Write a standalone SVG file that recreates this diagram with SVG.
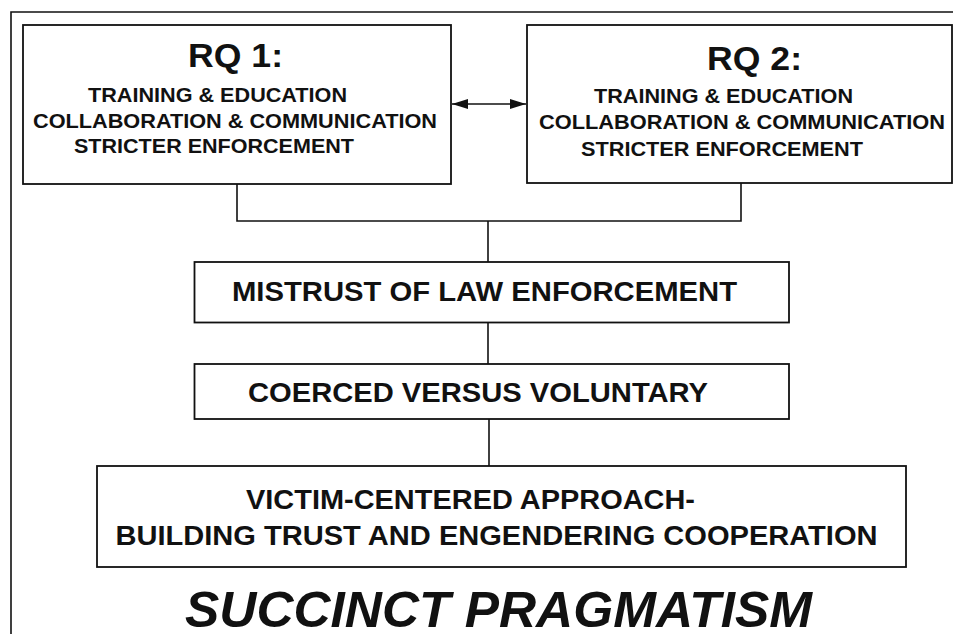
<svg xmlns="http://www.w3.org/2000/svg" width="953" height="634" viewBox="0 0 953 634">
<style>
.box{fill:#fff;stroke:#111;stroke-width:1.8}
.ln{fill:none;stroke:#111;stroke-width:1.6}
text{font-family:"Liberation Sans",Arial,sans-serif;font-weight:bold;fill:#111}
.h{font-size:33px}
.s{font-size:21px}
.m{font-size:28px}
.b{font-size:27px}
.t{font-size:50px;font-style:italic}
</style>
<defs>
<marker id="ah" viewBox="0 0 16 10" refX="16" refY="5" markerWidth="16" markerHeight="10" markerUnits="userSpaceOnUse" orient="auto-start-reverse">
<path d="M0,0 L16,5 L0,10 Z" fill="#111"/>
</marker>
</defs>
<rect width="953" height="634" fill="#fff"/>
<path class="ln" d="M11,634 V12 H953"/>
<g id="connectors">
<path class="ln" d="M237,184 V221 H741 V183"/>
<path class="ln" d="M488,221 V262"/>
<path class="ln" d="M488,322 V364"/>
<path class="ln" d="M489,419 V466"/>
<path class="ln" d="M452,104 H526" marker-start="url(#ah)" marker-end="url(#ah)"/>
</g>
<g id="rq1">
<rect class="box" x="23" y="25" width="428" height="159"/>
<text class="h" x="188" y="67" textLength="95" lengthAdjust="spacingAndGlyphs">RQ 1:</text>
<text class="s" x="88" y="102" textLength="259" lengthAdjust="spacingAndGlyphs">TRAINING &amp; EDUCATION</text>
<text class="s" x="33" y="128" textLength="404" lengthAdjust="spacingAndGlyphs">COLLABORATION &amp; COMMUNICATION</text>
<text class="s" x="74" y="153" textLength="280" lengthAdjust="spacingAndGlyphs">STRICTER ENFORCEMENT</text>
</g>
<g id="rq2">
<rect class="box" x="527" y="25" width="425" height="158"/>
<text class="h" x="707" y="70" textLength="95" lengthAdjust="spacingAndGlyphs">RQ 2:</text>
<text class="s" x="594" y="103" textLength="259" lengthAdjust="spacingAndGlyphs">TRAINING &amp; EDUCATION</text>
<text class="s" x="539" y="129" textLength="406" lengthAdjust="spacingAndGlyphs">COLLABORATION &amp; COMMUNICATION</text>
<text class="s" x="581" y="156" textLength="282" lengthAdjust="spacingAndGlyphs">STRICTER ENFORCEMENT</text>
</g>
<g id="mistrust">
<rect class="box" x="194.5" y="262" width="594.5" height="60.5"/>
<text class="m" x="232" y="301" textLength="505" lengthAdjust="spacingAndGlyphs">MISTRUST OF LAW ENFORCEMENT</text>
</g>
<g id="coerced">
<rect class="box" x="194.5" y="364" width="594.5" height="55"/>
<text class="m" x="248" y="402" textLength="460" lengthAdjust="spacingAndGlyphs">COERCED VERSUS VOLUNTARY</text>
</g>
<g id="victim">
<rect class="box" x="97" y="466" width="809" height="101"/>
<text class="b" x="246" y="509" textLength="449" lengthAdjust="spacingAndGlyphs">VICTIM-CENTERED APPROACH-</text>
<text class="b" x="115.5" y="545" textLength="762" lengthAdjust="spacingAndGlyphs">BUILDING TRUST AND ENGENDERING COOPERATION</text>
</g>
<g id="title">
<text class="t" x="185" y="627" textLength="627" lengthAdjust="spacingAndGlyphs">SUCCINCT PRAGMATISM</text>
</g>
</svg>
